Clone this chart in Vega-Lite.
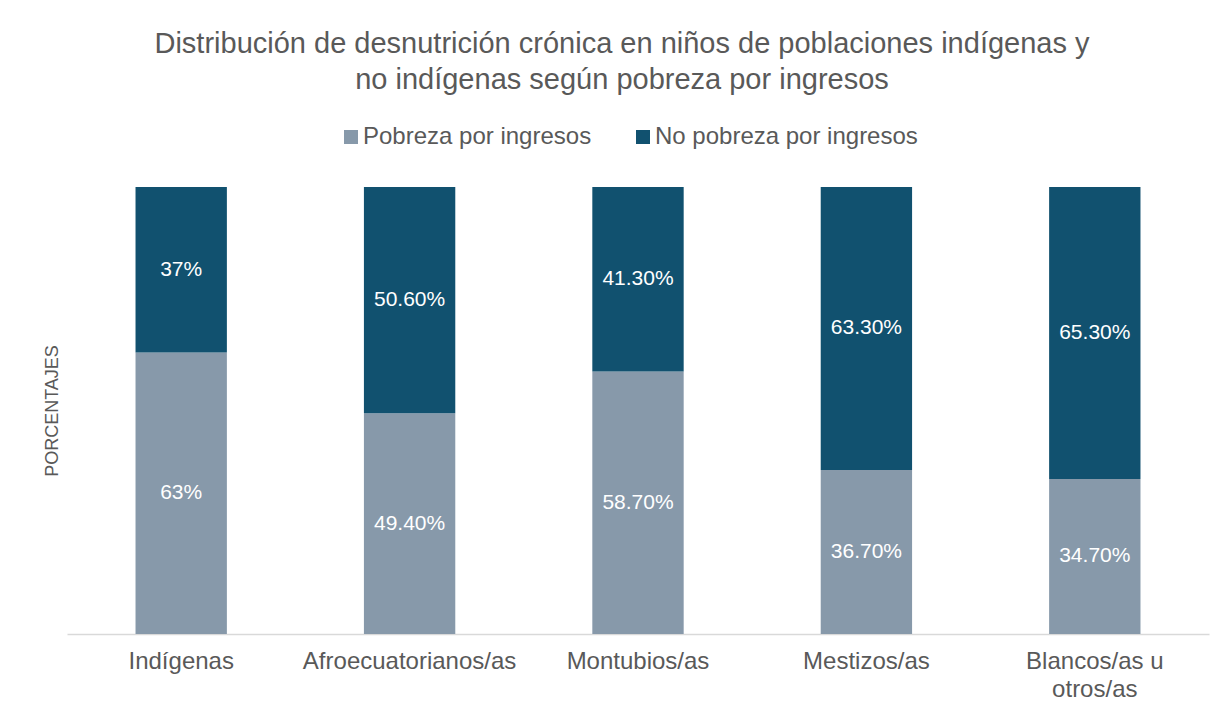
{
  "$schema": "https://vega.github.io/schema/vega-lite/v6.json",
  "width": 1142,
  "height": 447,
  "autosize": {"type": "none"},
  "padding": {"left": 67, "top": 187, "right": 17, "bottom": 83},
  "background": "white",
  "config": {
    "font": "Liberation Sans",
    "view": {"stroke": null}
  },
  "title": {
    "text": ["Distribución de desnutrición crónica en niños de poblaciones indígenas y", "no indígenas según pobreza por ingresos"],
    "fontSize": 29,
    "fontWeight": "normal",
    "color": "#595959",
    "anchor": "middle",
    "dx": -16,
    "lineHeight": 36,
    "offset": 30
  },
  "data": {
    "values": [
      {"grupo": "Indígenas", "serie": "Pobreza por ingresos", "orden": 1, "valor": 63, "etiqueta": "63%"},
      {"grupo": "Indígenas", "serie": "No pobreza por ingresos", "orden": 2, "valor": 37, "etiqueta": "37%"},
      {"grupo": "Afroecuatorianos/as", "serie": "Pobreza por ingresos", "orden": 1, "valor": 49.4, "etiqueta": "49.40%"},
      {"grupo": "Afroecuatorianos/as", "serie": "No pobreza por ingresos", "orden": 2, "valor": 50.6, "etiqueta": "50.60%"},
      {"grupo": "Montubios/as", "serie": "Pobreza por ingresos", "orden": 1, "valor": 58.7, "etiqueta": "58.70%"},
      {"grupo": "Montubios/as", "serie": "No pobreza por ingresos", "orden": 2, "valor": 41.3, "etiqueta": "41.30%"},
      {"grupo": "Mestizos/as", "serie": "Pobreza por ingresos", "orden": 1, "valor": 36.7, "etiqueta": "36.70%"},
      {"grupo": "Mestizos/as", "serie": "No pobreza por ingresos", "orden": 2, "valor": 63.3, "etiqueta": "63.30%"},
      {"grupo": "Blancos/as u otros/as", "serie": "Pobreza por ingresos", "orden": 1, "valor": 34.7, "etiqueta": "34.70%"},
      {"grupo": "Blancos/as u otros/as", "serie": "No pobreza por ingresos", "orden": 2, "valor": 65.3, "etiqueta": "65.30%"}
    ]
  },
  "encoding": {
    "x": {
      "field": "grupo",
      "type": "nominal",
      "sort": ["Indígenas", "Afroecuatorianos/as", "Montubios/as", "Mestizos/as", "Blancos/as u otros/as"],
      "scale": {"paddingInner": 0.6, "paddingOuter": 0.3},
      "axis": {
        "title": null,
        "labelAngle": 0,
        "labelFontSize": 24,
        "labelColor": "#595959",
        "labelPadding": 15,
        "labelLineHeight": 28,
        "labelLimit": 0,
        "labelExpr": "datum.label == 'Blancos/as u otros/as' ? ['Blancos/as u', 'otros/as'] : datum.label",
        "ticks": false,
        "domainColor": "#d9d9d9",
        "domainWidth": 1.5,
        "grid": false
      }
    },
    "y": {
      "field": "valor",
      "type": "quantitative",
      "stack": "normalize",
      "scale": {"domain": [0, 1]},
      "axis": {
        "title": "PORCENTAJES",
        "titleFontSize": 18,
        "titleFontWeight": "normal",
        "titleColor": "#595959",
        "titlePadding": 6,
        "labels": false,
        "ticks": false,
        "domain": false,
        "grid": false
      }
    },
    "order": {"field": "orden", "type": "quantitative"}
  },
  "layer": [
    {
      "mark": {"type": "bar"},
      "encoding": {
        "color": {
          "field": "serie",
          "type": "nominal",
          "scale": {"domain": ["Pobreza por ingresos", "No pobreza por ingresos"], "range": ["#8799aa", "#11516f"]},
          "legend": {
            "orient": "none",
            "legendX": 272,
            "legendY": -62,
            "direction": "horizontal",
            "title": null,
            "symbolType": "square",
            "symbolSize": 196,
            "symbolStrokeWidth": 0,
            "labelFontSize": 24,
            "labelColor": "#595959",
            "labelOffset": 0,
            "labelLimit": 0,
            "columnPadding": 39
          }
        }
      }
    },
    {
      "mark": {"type": "text", "color": "white", "fontSize": 21, "baseline": "middle"},
      "encoding": {
        "y": {"field": "valor", "type": "quantitative", "stack": "normalize", "bandPosition": 0.5},
        "detail": {"field": "serie"},
        "text": {"field": "etiqueta"}
      }
    }
  ]
}
